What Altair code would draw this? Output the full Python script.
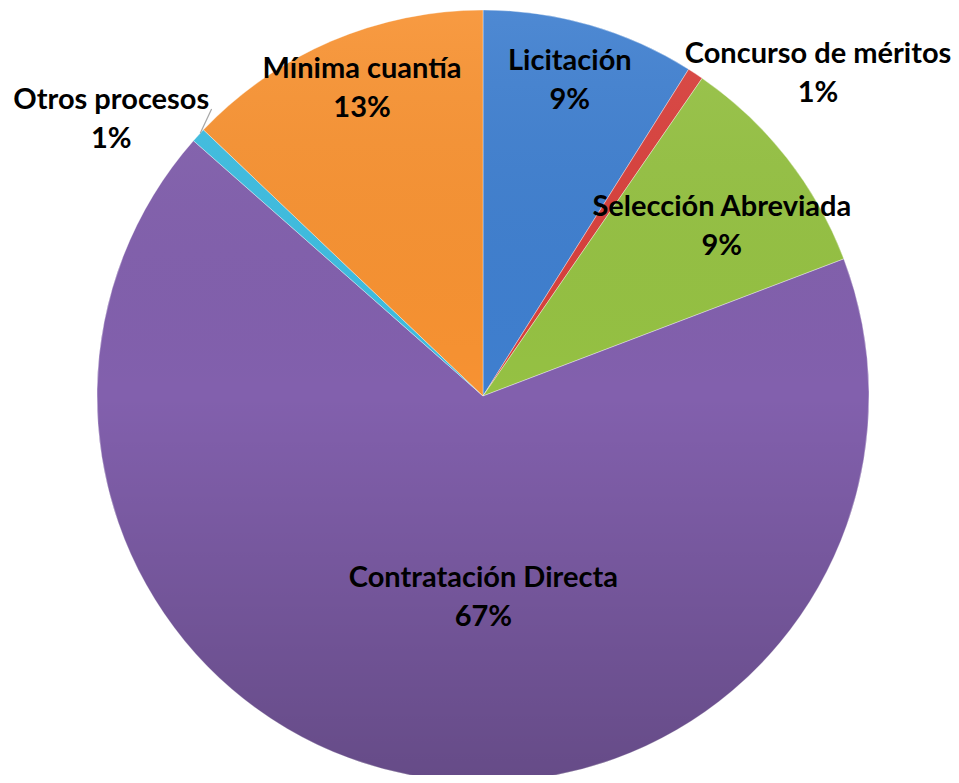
import altair as alt
import pandas as pd
import numpy as np

# ---- data ----
categories = ["Licitación", "Concurso de méritos", "Selección Abreviada",
              "Contratación Directa", "Otros procesos", "Mínima cuantía"]
shares = [8.94, 0.67, 9.61, 67.28, 0.61, 12.89]
pct_text = ["9%", "1%", "9%", "67%", "1%", "13%"]

# ---- styling / layout (not data) ----
colors = ["#3f7fcf", "#d8403c", "#95c143", "#8260ad", "#3ebde0", "#f79232"]
label_angle_deg = [15.4, 46.1, 54.6, 179.9, 306.6, 338.5]
label_radius = [327, 465, 293, 202, 463, 330]
CX, CY, R = 475, 388, 386
LINE_H = 39

df = pd.DataFrame({
    "cat": categories,
    "share": shares,
    "order": list(range(len(categories))),
    "label": [c + "\n" + p for c, p in zip(categories, pct_text)],
    "lt": [np.deg2rad(a) for a in label_angle_deg],
    "lr": label_radius,
})

base = alt.Chart(df)

pie = base.mark_arc(stroke="#ffffff", strokeWidth=0.6, strokeOpacity=0.6).encode(
    theta=alt.Theta("share:Q", stack=True),
    order=alt.Order("order:Q"),
    color=alt.Color("cat:N", scale=alt.Scale(domain=categories, range=colors), legend=None),
    x=alt.value(CX), y=alt.value(CY), radius=alt.value(R),
)

shade = alt.Chart(pd.DataFrame({"k": [1]})).mark_arc(
    theta=0, theta2=6.28318,
    fill=alt.LinearGradient(
        gradient="linear", x1=0, y1=0, x2=0, y2=1,
        stops=[alt.GradientStop(offset=0, color="rgba(255,255,255,0.08)"),
               alt.GradientStop(offset=0.5, color="rgba(0,0,0,0.0)"),
               alt.GradientStop(offset=1, color="rgba(0,0,0,0.22)")],
    ),
).encode(x=alt.value(CX), y=alt.value(CY), radius=alt.value(R))

# leader line for "Otros procesos"
lead_ang = np.deg2rad([312.9, 316.6])
lead_r = [386, 395]
lead = pd.DataFrame({
    "px": [CX + r * np.sin(a) for r, a in zip(lead_r, lead_ang)],
    "py": [CY - r * np.cos(a) for r, a in zip(lead_r, lead_ang)],
    "i": [0, 1],
})
leader = alt.Chart(lead).mark_line(color="#a6a6a6", strokeWidth=1.2).encode(
    x=alt.X("px:Q", scale=None), y=alt.Y("py:Q", scale=None), order="i:Q"
)

labels = base.mark_text(
    font="Lato", fontWeight="bold", fontSize=29, lineBreak="\n", lineHeight=LINE_H,
    align="center", baseline="middle", color="#000000", dy=-LINE_H / 2,
).encode(
    theta=alt.Theta("lt:Q", scale=None),
    radius=alt.Radius("lr:Q", scale=None),
    text="label:N",
    x=alt.value(CX), y=alt.value(CY),
)

chart = alt.layer(pie, shade, leader, labels).properties(
    width=943, height=767, padding=0, autosize="none"
).configure_view(stroke=None)

chart.save("out.html", embed_options={"renderer": "svg", "actions": False})
